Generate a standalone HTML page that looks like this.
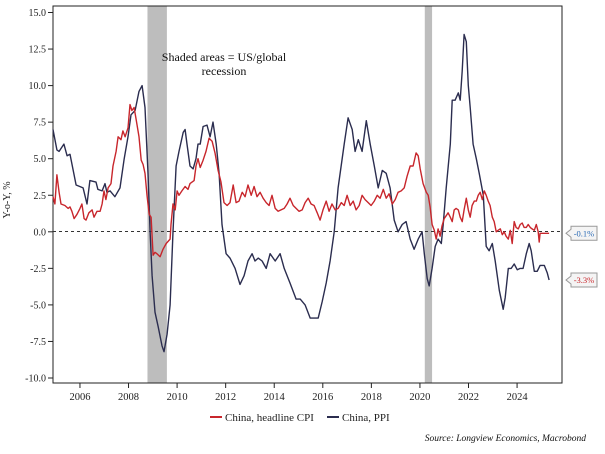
<!DOCTYPE html>
<html><head><meta charset="utf-8">
<style>
html,body{margin:0;padding:0;background:#fff;}
svg{display:block;font-family:"Liberation Serif",serif;}
</style></head>
<body>
<svg id="chart" width="605" height="454" viewBox="0 0 605 454">
  <g id="recessions"></g>
  <rect x="53" y="6" width="509" height="377" fill="none" stroke="#222" stroke-width="1"/>
  <line x1="53" x2="562" y1="231.5" y2="231.5" stroke="#333" stroke-dasharray="3,3" stroke-width="1"/>
  <g id="yaxis"></g>
  <g id="xaxis"></g>
  <g id="series"></g>
  <text x="10" y="200" transform="rotate(-90 10 200)" text-anchor="middle" font-size="10" fill="#222">Y-o-Y, %</text>
  <text x="224" y="61" text-anchor="middle" font-size="12" fill="#111">Shaded areas = US/global</text>
  <text x="224" y="75" text-anchor="middle" font-size="12" fill="#111">recession</text>
  <g>
    <line x1="210" x2="222" y1="417" y2="417" stroke="#c8262c" stroke-width="2"/>
    <text x="225" y="421" font-size="11" fill="#222">China, headline CPI</text>
    <line x1="327" x2="339" y1="417" y2="417" stroke="#2b2d4f" stroke-width="2"/>
    <text x="342" y="421" font-size="11" fill="#222">China, PPI</text>
  </g>
  <text x="586" y="441" text-anchor="end" font-size="9.5" font-style="italic" fill="#111">Source: Longview Economics, Macrobond</text>
  <g id="endlabels"></g>
</svg>
<script>
const yTicks = [15, 12.5, 10, 7.5, 5, 2.5, 0, -2.5, -5, -7.5, -10];
const yTickLabels = ["15.0","12.5","10.0","7.5","5.0","2.5","0.0","-2.5","-5.0","-7.5","-10.0"];
const xTicks = [2006, 2008, 2010, 2012, 2014, 2016, 2018, 2020, 2022, 2024];
const recessionStarts = [2008.78, 2020.20];
const recessionEnds = [2009.58, 2020.50];
const ppiYears = [2004.89,2005.05,2005.14,2005.34,2005.47,2005.59,2005.71,2005.84,2006.13,2006.29,2006.41,2006.66,2006.74,2006.91,2007.03,2007.11,2007.24,2007.44,2007.65,2007.82,2007.98,2008.10,2008.27,2008.43,2008.56,2008.68,2008.80,2008.89,2008.97,2009.09,2009.22,2009.38,2009.46,2009.59,2009.71,2009.83,2009.96,2010.08,2010.25,2010.33,2010.41,2010.53,2010.66,2010.78,2010.86,2010.95,2011.07,2011.23,2011.36,2011.48,2011.61,2011.73,2011.85,2012.02,2012.18,2012.39,2012.59,2012.76,2012.92,2013.09,2013.21,2013.34,2013.50,2013.67,2013.83,2014.04,2014.24,2014.41,2014.65,2014.90,2015.07,2015.27,2015.48,2015.81,2015.97,2016.14,2016.30,2016.47,2016.63,2016.88,2017.04,2017.21,2017.33,2017.46,2017.62,2017.79,2017.95,2018.12,2018.28,2018.45,2018.61,2018.77,2018.94,2019.10,2019.27,2019.43,2019.60,2019.76,2019.93,2020.09,2020.18,2020.30,2020.38,2020.50,2020.63,2020.75,2020.88,2020.96,2021.08,2021.25,2021.33,2021.45,2021.58,2021.66,2021.74,2021.82,2021.91,2021.99,2022.07,2022.19,2022.32,2022.44,2022.61,2022.73,2022.85,2022.98,2023.10,2023.27,2023.43,2023.51,2023.64,2023.76,2023.88,2024.01,2024.13,2024.25,2024.38,2024.50,2024.58,2024.71,2024.83,2024.95,2025.12,2025.24,2025.32];
const ppiValues = [7.0,5.6,5.5,6.0,5.2,5.3,4.3,3.2,3.0,1.9,3.5,3.4,2.9,2.8,3.3,2.7,2.8,2.4,3.0,5.0,6.5,8.0,8.3,9.6,10.0,8.5,4.0,0.0,-3.0,-5.5,-6.5,-7.8,-8.2,-7.0,-5.0,0.0,4.5,5.5,6.8,7.0,6.0,4.5,4.3,5.0,6.0,6.0,7.2,7.3,6.5,7.5,6.0,4.0,0.5,-1.5,-1.8,-2.5,-3.6,-3.0,-2.0,-1.5,-2.0,-1.8,-2.0,-2.5,-1.5,-2.0,-1.5,-2.5,-3.5,-4.6,-4.6,-5.0,-5.9,-5.9,-4.8,-3.5,-2.0,0.0,3.0,6.0,7.8,7.0,5.5,6.3,5.5,7.6,6.0,4.5,3.0,4.2,4.0,3.0,0.8,0.0,0.5,0.7,-0.5,-1.2,-0.5,0.0,-1.5,-3.2,-3.7,-2.5,-1.0,-0.5,-0.8,0.5,3.0,6.0,9.0,9.0,9.5,9.0,11.0,13.5,13.0,10.0,8.5,6.0,5.0,4.0,2.5,-1.0,-1.3,-0.8,-2.0,-4.0,-5.3,-4.5,-2.5,-2.5,-2.2,-2.6,-2.5,-2.5,-1.5,-0.8,-1.3,-2.7,-2.7,-2.3,-2.3,-2.8,-3.3];
const cpiYears = [2004.89,2004.97,2005.05,2005.14,2005.22,2005.38,2005.51,2005.59,2005.67,2005.76,2005.88,2006.00,2006.08,2006.17,2006.25,2006.37,2006.50,2006.58,2006.70,2006.83,2006.91,2006.99,2007.07,2007.16,2007.28,2007.36,2007.49,2007.57,2007.69,2007.77,2007.86,2007.98,2008.06,2008.14,2008.23,2008.31,2008.43,2008.52,2008.60,2008.68,2008.76,2008.85,2008.93,2009.01,2009.09,2009.17,2009.30,2009.42,2009.55,2009.71,2009.75,2009.83,2009.92,2010.00,2010.08,2010.20,2010.33,2010.45,2010.53,2010.70,2010.78,2010.86,2010.95,2011.07,2011.19,2011.32,2011.44,2011.56,2011.69,2011.81,2011.93,2012.06,2012.18,2012.31,2012.43,2012.55,2012.68,2012.80,2012.92,2013.05,2013.17,2013.29,2013.42,2013.54,2013.67,2013.79,2013.91,2014.04,2014.16,2014.28,2014.41,2014.53,2014.65,2014.78,2014.90,2015.02,2015.15,2015.27,2015.40,2015.52,2015.64,2015.77,2015.89,2016.01,2016.14,2016.26,2016.38,2016.51,2016.63,2016.76,2016.88,2017.00,2017.13,2017.25,2017.37,2017.50,2017.62,2017.74,2017.87,2017.99,2018.12,2018.24,2018.36,2018.49,2018.61,2018.73,2018.86,2018.98,2019.10,2019.23,2019.35,2019.47,2019.60,2019.72,2019.84,2019.93,2020.01,2020.13,2020.26,2020.34,2020.42,2020.50,2020.59,2020.67,2020.75,2020.83,2020.91,2021.00,2021.08,2021.16,2021.25,2021.33,2021.41,2021.49,2021.58,2021.66,2021.74,2021.82,2021.91,2021.99,2022.07,2022.15,2022.24,2022.32,2022.40,2022.48,2022.57,2022.65,2022.73,2022.81,2022.89,2022.98,2023.06,2023.14,2023.22,2023.31,2023.39,2023.47,2023.55,2023.64,2023.72,2023.80,2023.88,2023.96,2024.05,2024.13,2024.21,2024.29,2024.38,2024.46,2024.54,2024.62,2024.71,2024.79,2024.87,2024.91,2024.95,2025.08,2025.32];
const cpiValues = [2.4,1.9,3.9,2.7,1.9,1.8,1.6,1.7,1.4,0.9,1.2,1.6,1.9,0.9,0.8,1.3,1.5,1.0,1.4,1.4,1.9,2.8,2.2,3.0,3.3,4.5,5.5,6.5,6.3,6.9,6.5,7.1,8.7,8.3,8.5,7.7,6.5,4.9,4.6,4.0,2.5,1.2,1.0,-1.6,-1.4,-1.5,-1.7,-1.2,-0.8,-0.5,0.5,1.9,1.5,2.8,2.5,2.8,3.1,2.9,3.3,3.5,4.5,5.0,4.4,4.9,5.5,6.4,6.2,5.4,4.2,3.4,2.0,1.8,2.0,3.2,2.0,2.1,2.7,2.4,3.2,2.5,3.1,2.4,2.7,2.3,2.0,1.8,2.5,1.6,1.4,1.5,1.6,1.9,2.3,1.8,1.6,1.4,1.5,2.0,2.3,1.9,1.8,1.3,0.8,1.5,2.1,1.4,1.9,1.5,1.6,2.0,1.8,2.5,1.8,2.1,1.5,1.8,2.5,2.2,2.0,1.8,2.1,2.5,2.3,2.9,2.3,2.6,1.9,2.2,2.7,2.8,3.0,3.8,4.5,4.5,5.4,5.2,4.3,3.3,2.7,2.5,1.7,0.5,0.1,-0.5,0.2,-0.3,0.4,0.9,1.1,1.3,1.0,0.7,1.5,1.6,1.5,1.0,0.7,1.5,2.3,1.5,1.0,1.8,2.1,2.1,2.5,2.7,2.2,2.8,2.5,2.1,1.8,1.0,0.7,0.0,0.1,0.2,-0.2,0.0,-0.3,-0.5,0.1,-0.8,0.7,0.3,0.2,0.5,0.6,0.3,0.3,0.5,0.3,0.2,0.1,0.5,0.0,-0.7,-0.1,-0.1,-0.1];

const NS = "http://www.w3.org/2000/svg";
const X0 = 53, X1 = 562, YEAR0 = 2004.89, YEAR1 = 2025.85;
const Y_TOP = 12.5, Y_BOT = 378, V_TOP = 15, V_BOT = -10;
function xScale(yr){ return X0 + (yr - YEAR0) / (YEAR1 - YEAR0) * (X1 - X0); }
function yScale(v){ return Y_TOP + (V_TOP - v) / (V_TOP - V_BOT) * (Y_BOT - Y_TOP); }
function mk(tag, attrs){ const e = document.createElementNS(NS, tag); for (const k in attrs) e.setAttribute(k, attrs[k]); return e; }

const rec = document.getElementById('recessions');
recessionStarts.forEach((s, i) => {
  const r = mk('rect', {x: xScale(s), y: 6, width: xScale(recessionEnds[i]) - xScale(s), height: 377, fill: '#bdbdbd'});
  
  
  rec.appendChild(r);
});

const ya = document.getElementById('yaxis');
yTicks.forEach((v, i) => {
  const y = yScale(v);
  const t = mk('line', {x1: 48, x2: 53, y1: y, y2: y, stroke: '#222'});
  
  
  ya.appendChild(t);
  const l = mk('text', {x: 46, y: y + 3.5, 'text-anchor': 'end', 'font-size': 10, fill: '#222'});
  
  
  l.textContent = yTickLabels[i];
  ya.appendChild(l);
});

const xa = document.getElementById('xaxis');
xTicks.forEach(yr => {
  const x = xScale(yr);
  const t = mk('line', {x1: x, x2: x, y1: 383, y2: 388, stroke: '#222'});
  
  
  xa.appendChild(t);
  const l = mk('text', {x: x, y: 400, 'text-anchor': 'middle', 'font-size': 10.5, fill: '#222'});
  
  
  l.textContent = yr;
  xa.appendChild(l);
});

const sg = document.getElementById('series');
function drawLine(years, vals, color, name){
  const d = years.map((yr, i) => (i ? 'L' : 'M') + xScale(yr).toFixed(1) + ',' + yScale(vals[i]).toFixed(1)).join(' ');
  const p = mk('path', {d: d, fill: 'none', stroke: color, 'stroke-width': 1.4, 'stroke-linejoin': 'round'});
  
  
  sg.appendChild(p);
}
drawLine(ppiYears, ppiValues, '#2b2d4f', 'ppi-line');
drawLine(cpiYears, cpiValues, '#c8262c', 'cpi-line');

const el = document.getElementById('endlabels');
function endLabel(v, color, name){
  const y = yScale(v);
  const g = mk('g', {});
  
  
  g.appendChild(mk('path', {d: `M566,${y} L571,${y-4} L571,${y-7} L597,${y-7} L597,${y+7} L571,${y+7} L571,${y+4} Z`, fill: '#f4f4f4', stroke: '#999', 'stroke-width': 1}));
  const t = mk('text', {x: 584, y: y + 3, 'text-anchor': 'middle', 'font-size': 8.5, fill: color});
  t.textContent = (v > 0 ? '+' : '') + v.toFixed(1) + '%';
  g.appendChild(t);
  el.appendChild(g);
}
endLabel(cpiValues[cpiValues.length - 1], '#2a6ab5', 'cpi-end-label');
endLabel(ppiValues[ppiValues.length - 1], '#c8262c', 'ppi-end-label');
</script>
</body></html>
